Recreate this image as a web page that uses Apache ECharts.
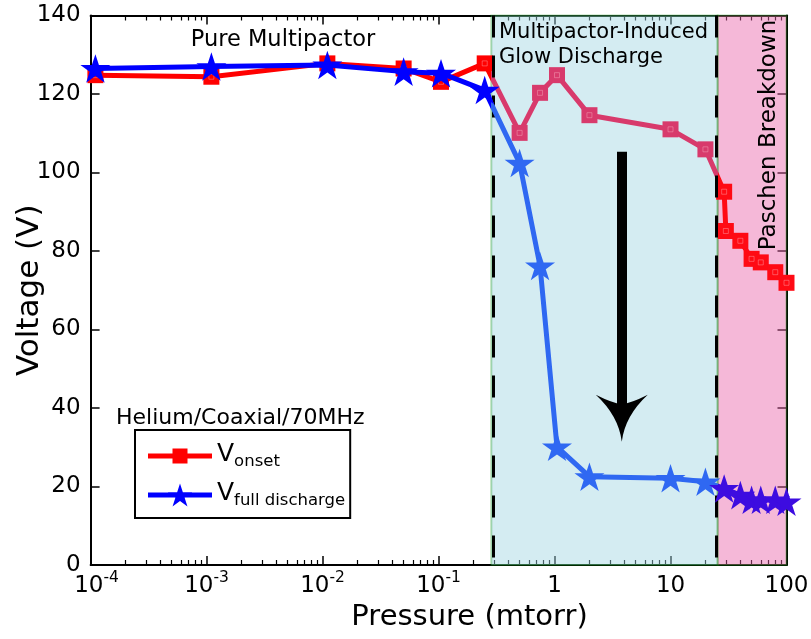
<!DOCTYPE html>
<html>
<head>
<meta charset="utf-8">
<script src="https://cdn.jsdelivr.net/npm/echarts@6/dist/echarts.min.js"></script>
<style>
  html, body { margin: 0; padding: 0; background: #fff; }
  #chart { width: 811px; height: 639px; }
</style>
</head>
<body>
<div id="chart"></div>
<script>
// Helium, coaxial geometry, 70 MHz: breakdown voltages versus pressure
const onsetPressure = [1.1e-4, 1.1e-3, 1.1e-2, 0.05, 0.105, 0.25, 0.5, 0.75, 1.05, 2, 10, 20, 29, 30, 40, 50, 60, 80, 100];
const onsetVoltage  = [124.8, 124.4, 127.8, 126.5, 123.1, 127.8, 110.1, 120.3, 124.8, 114.6, 111.0, 105.9, 95.1, 85.1, 82.6, 78.0, 77.1, 74.6, 71.9];

const fullPressure = [1.1e-4, 1.1e-3, 1.1e-2, 0.05, 0.105, 0.25, 0.5, 0.75, 1.05, 2, 10, 20, 29, 40, 50, 60, 80, 100];
const fullVoltage  = [126.5, 127.0, 127.4, 125.7, 125.3, 121.0, 102.4, 76.2, 30.1, 22.5, 22.1, 21.2, 19.5, 17.8, 16.6, 16.6, 16.6, 16.1];

// regime boundaries (mtorr)
const glowStart = 0.285;
const paschenStart = 25.5;
const dashedAt = [0.295, 24.6];

// trend arrow: pressure, start voltage, head-centre voltage
const arrowPressure = 3.8;
const arrowFrom = 105.3;
const arrowTo = 37.4;

// axis ticks
const majorTicks = [1e-4, 1e-3, 1e-2, 1e-1, 1, 10, 100];
const minorTicks = [];
for (let e = -4; e < 2; e++) {
  for (let k = 2; k < 10; k++) minorTicks.push(k * Math.pow(10, e));
}

const FONT = 'DejaVu Sans';
const STAR = 'path://M100,0 L122.45,69.1 L195.1,69.1 L136.3,111.8 L158.8,180.9 L100,138.2 L41.2,180.9 L63.7,111.8 L4.9,69.1 L77.55,69.1 Z';
const ARROW_HEAD = 'path://M50,0 Q56,55 100,100 Q68,82 50,80 Q32,82 0,100 Q44,55 50,0 Z';
// legend keys: a line segment with the series marker in the middle
const KEY_SQUARE = 'path://M24.5,4 L39.5,4 L39.5,19 L24.5,19 Z M0,9 L64,9 L64,14 L0,14 Z';
const KEY_STAR = 'path://M32,0 L34.85,8.78 L44.08,8.78 L36.61,14.2 L39.47,22.97 L32,17.55 L24.53,22.97 L27.39,14.2 L19.92,8.78 L29.15,8.78 Z M0,9 L64,9 L64,14 L0,14 Z';

const onsetData = onsetPressure.map((p, i) => [p, onsetVoltage[i]]);
const fullData = fullPressure.map((p, i) => [p, fullVoltage[i]]);

function pressureLabel(v) {
  const e = Math.round(Math.log10(v));
  if (e < 0) return (e === -4 ? '{p| }' : '') + '{b|10}{e|' + e + '}';
  return '{b|' + Math.round(v) + '}';
}

const xBase = {
  type: 'log', logBase: 10, min: 1e-4, max: 100, gridIndex: 0,
  splitLine: { show: false }, minorTick: { show: false }, minorSplitLine: { show: false }
};
const blackLine = { show: true, lineStyle: { color: '#000', width: 2 } };

const chart = echarts.init(document.getElementById('chart'), null, { renderer: 'canvas' });

chart.setOption({
  animation: false,
  backgroundColor: '#fff',
  grid: { left: 90.6, right: 24.5, top: 15.5, bottom: 74, outerBoundsMode: 'none', containLabel: false },
  xAxis: [
    Object.assign({}, xBase, {
      position: 'bottom',
      axisLine: blackLine,
      axisTick: { show: true, inside: true, length: 9, customValues: majorTicks, lineStyle: { color: '#000', width: 1.5 } },
      axisLabel: {
        customValues: majorTicks, formatter: pressureLabel, margin: 5, color: '#000',
        rich: {
          p: { width: 12, fontSize: 23, fontFamily: FONT },
          b: { fontSize: 23, fontFamily: FONT, color: '#000', lineHeight: 28, verticalAlign: 'bottom' },
          e: { fontSize: 15.5, fontFamily: FONT, color: '#000', lineHeight: 16, verticalAlign: 'top' }
        }
      },
      name: 'Pressure (mtorr)', nameLocation: 'middle', nameGap: 30,
      nameTextStyle: { fontFamily: FONT, fontSize: 29, color: '#000', padding: [0, 0, 0, 62] }
    }),
    Object.assign({}, xBase, {
      position: 'bottom',
      axisLine: { show: false },
      axisTick: { show: true, inside: true, length: 5, customValues: minorTicks, lineStyle: { color: '#000', width: 1.2 } },
      axisLabel: { show: false }
    }),
    Object.assign({}, xBase, {
      position: 'top',
      axisLine: blackLine,
      axisTick: { show: true, inside: true, length: 9, customValues: majorTicks, lineStyle: { color: '#000', width: 1.5 } },
      axisLabel: { show: false }
    }),
    Object.assign({}, xBase, {
      position: 'top',
      axisLine: { show: false },
      axisTick: { show: true, inside: true, length: 5, customValues: minorTicks, lineStyle: { color: '#000', width: 1.2 } },
      axisLabel: { show: false }
    })
  ],
  yAxis: [
    {
      type: 'value', min: 0, max: 140, interval: 20, position: 'left',
      axisLine: blackLine,
      axisTick: { show: true, inside: true, length: 9, lineStyle: { color: '#000', width: 1.5 } },
      axisLabel: { fontFamily: FONT, fontSize: 23, color: '#000', margin: 10 },
      splitLine: { show: false },
      name: 'Voltage (V)', nameLocation: 'middle', nameGap: 45, nameMoveOverlap: false,
      nameTextStyle: { fontFamily: FONT, fontSize: 31, color: '#000' }
    },
    {
      type: 'value', min: 0, max: 140, interval: 20, position: 'right',
      axisLine: blackLine,
      axisTick: { show: true, inside: true, length: 9, lineStyle: { color: '#000', width: 1.5 } },
      axisLabel: { show: false },
      splitLine: { show: false }
    }
  ],
  visualMap: [
    {
      show: false, type: 'piecewise', seriesIndex: 0, dimension: 0,
      pieces: [
        { lt: glowStart, color: '#ff0000' },
        { gte: glowStart, lt: paschenStart, color: '#d83a6c' },
        { gte: paschenStart, color: '#ff0a14' }
      ]
    },
    {
      show: false, type: 'piecewise', seriesIndex: 1, dimension: 0,
      pieces: [
        { lt: glowStart, color: '#0000ff' },
        { gte: glowStart, lt: paschenStart, color: '#2f68f2' },
        { gte: paschenStart, color: '#3d0ce0' }
      ]
    }
  ],
  legend: {
    orient: 'vertical', left: 135, top: 430,
    data: [
      { name: 'V onset', icon: KEY_SQUARE, itemStyle: { color: '#ff0000' } },
      { name: 'V full discharge', icon: KEY_STAR, itemStyle: { color: '#0000ff' } }
    ],
    borderColor: '#000', borderWidth: 2, borderRadius: 0,
    padding: [12, 5, 9, 13],
    itemWidth: 64, itemHeight: 24, itemGap: 11,
    symbolKeepAspect: true,
    selectedMode: false,
    formatter: name => '{v|V}{s|' + name.slice(2) + '}',
    textStyle: {
      color: '#000',
      rich: {
        v: { fontFamily: FONT, fontSize: 25, color: '#000', lineHeight: 22, verticalAlign: 'top' },
        s: { fontFamily: FONT, fontSize: 16.5, color: '#000', padding: [11, 0, 0, 0], verticalAlign: 'top' }
      }
    }
  },
  series: [
    {
      name: 'V onset', type: 'line', data: onsetData,
      xAxisIndex: 0, yAxisIndex: 0,
      symbol: 'rect', symbolSize: 16,
      lineStyle: { width: 5 }, itemStyle: { color: '#ff0000' },
      z: 3, emphasis: { disabled: true }
    },
    {
      name: 'V full discharge', type: 'line', data: fullData,
      xAxisIndex: 0, yAxisIndex: 0,
      symbol: STAR, symbolSize: 30, symbolKeepAspect: true,
      lineStyle: { width: 5 }, itemStyle: { color: '#0000ff' },
      z: 5, emphasis: { disabled: true }
    },
    {
      // small light outline inside each square marker
      name: 'onset marker centre', type: 'scatter', data: onsetData,
      xAxisIndex: 0, yAxisIndex: 0, silent: true,
      symbol: 'rect', symbolSize: 5,
      itemStyle: { color: 'rgba(0,0,0,0)', borderColor: 'rgba(255,200,210,0.45)', borderWidth: 1 },
      z: 4, emphasis: { disabled: true }
    },
    {
      name: 'regions', type: 'line', data: [], xAxisIndex: 0, yAxisIndex: 0, silent: true,
      markArea: {
        silent: true, z: 1,
        itemStyle: { borderColor: 'rgba(0,140,0,0.3)', borderWidth: 2 },
        data: [
          [{ coord: [glowStart, 0], itemStyle: { color: 'rgba(159,213,226,0.45)' } }, { coord: [paschenStart, 140] }],
          [{ coord: [paschenStart, 0], itemStyle: { color: 'rgba(233,97,168,0.45)' } }, { coord: [100, 140] }]
        ]
      },
      markLine: {
        silent: true, symbol: ['none', 'none'], label: { show: false },
        lineStyle: { color: '#000', width: 3, type: [22, 18] },
        data: dashedAt.map(p => [{ coord: [p, 140] }, { coord: [p, 0] }])
      }
    },
    {
      name: 'trend', type: 'line', data: [], xAxisIndex: 0, yAxisIndex: 0, silent: true,
      markLine: {
        silent: true, symbol: ['none', ARROW_HEAD], symbolSize: [52, 47], label: { show: false },
        lineStyle: { color: '#000', width: 10, type: 'solid', opacity: 1 },
        data: [[{ coord: [arrowPressure, arrowFrom] }, { coord: [arrowPressure, arrowTo] }]]
      }
    }
  ],
  graphic: [
    { type: 'text', x: 283, y: 40, z: 100, style: { text: 'Pure Multipactor', font: '22.5px "DejaVu Sans"', fill: '#000', align: 'center', verticalAlign: 'middle' } },
    { type: 'text', x: 499, y: 33, z: 100, style: { text: 'Multipactor-Induced', font: '21px "DejaVu Sans"', fill: '#000', align: 'left', verticalAlign: 'middle' } },
    { type: 'text', x: 499, y: 57.5, z: 100, style: { text: 'Glow Discharge', font: '21px "DejaVu Sans"', fill: '#000', align: 'left', verticalAlign: 'middle' } },
    { type: 'text', x: 769, y: 135, rotation: Math.PI / 2, z: 100, style: { text: 'Paschen Breakdown', font: '23px "DejaVu Sans"', fill: '#000', align: 'center', verticalAlign: 'middle' } },
    { type: 'text', x: 116, y: 418, z: 100, style: { text: 'Helium/Coaxial/70MHz', font: '22px "DejaVu Sans"', fill: '#000', align: 'left', verticalAlign: 'middle' } }
  ]
});
</script>
</body>
</html>
